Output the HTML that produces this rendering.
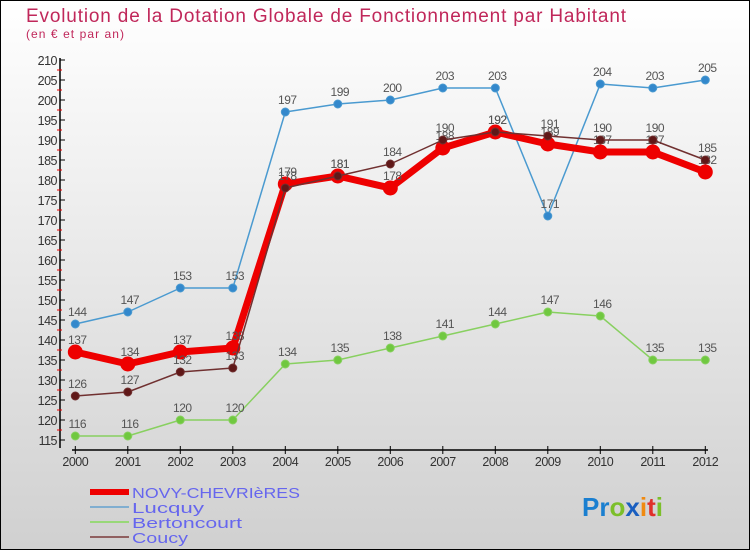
<!DOCTYPE html>
<html><head><meta charset="utf-8"><style>
html,body{margin:0;padding:0;}
body{width:750px;height:550px;overflow:hidden;font-family:"Liberation Sans",sans-serif;}
</style></head><body>
<svg id="chart" width="750" height="550" xmlns="http://www.w3.org/2000/svg">
<defs><linearGradient id="bg" x1="0" y1="0" x2="0" y2="1"><stop offset="0" stop-color="#ffffff"/><stop offset="1" stop-color="#d0d0d0"/></linearGradient></defs>
<rect x="0.5" y="0.5" width="749" height="549" fill="url(#bg)" stroke="#000"/>
<text x="26" y="22" font-size="19" fill="#c0275a" textLength="600" lengthAdjust="spacing">Evolution de la Dotation Globale de Fonctionnement par Habitant</text>
<text x="26" y="38" font-size="12" fill="#c0275a" textLength="98" lengthAdjust="spacing">(en € et par an)</text>
<g id="axes"></g><g id="series"></g><g id="legend"></g>
<text x="582" y="516" font-size="26" font-weight="bold" fill="#1a7fd0">Pr<tspan fill="#7cbf2a">o</tspan><tspan fill="#1a5fc0">x</tspan><tspan fill="#f08a10">i</tspan><tspan fill="#e0302a">t</tspan><tspan fill="#7cbf2a">i</tspan></text>
</svg>
<script>
const years=["2000","2001","2002","2003","2004","2005","2006","2007","2008","2009","2010","2011","2012"];
const yTicks=[115,120,125,130,135,140,145,150,155,160,165,170,175,180,185,190,195,200,205,210];
const novy=[137,134,137,138,179,181,178,188,192,189,187,187,182];
const lucquy=[144,147,153,153,197,199,200,203,203,171,204,203,205];
const bertoncourt=[116,116,120,120,134,135,138,141,144,147,146,135,135];
const coucy=[126,127,132,133,178,181,184,190,192,191,190,190,185];
const NS="http://www.w3.org/2000/svg";
const xs=i=>75.3+i*52.5;
const ys=v=>60+(210-v)*4;
function mk(tag,attrs,parent,txt){const e=document.createElementNS(NS,tag);for(const k in attrs)e.setAttribute(k,attrs[k]);if(txt!==undefined)e.textContent=txt;parent.appendChild(e);return e;}
const ax=document.getElementById('axes');
let e=mk('line',{x1:60,y1:58,x2:60,y2:448,stroke:'#000','stroke-width':1.5},ax);


e=mk('line',{x1:72,y1:450,x2:708,y2:450,stroke:'#000','stroke-width':1.5},ax);


yTicks.forEach((t,i)=>{
  mk('line',{x1:60,y1:ys(t),x2:65,y2:ys(t),stroke:'#000'},ax);
  if(i<yTicks.length-1) mk('line',{x1:57,y1:ys(t+2.5),x2:62,y2:ys(t+2.5),stroke:'#e00'},ax);
  const l=mk('text',{x:57,y:ys(t)+5,'font-size':12.5,'text-anchor':'end',fill:'#333','letter-spacing':'-0.5'},ax,String(t));
  
  
});
years.forEach((y,i)=>{
  mk('line',{x1:xs(i),y1:446,x2:xs(i),y2:454,stroke:'#000'},ax);
  const l=mk('text',{x:xs(i),y:466,'font-size':12.5,'text-anchor':'middle',fill:'#333','letter-spacing':'-0.5'},ax,y);
  
  
});
const sg=document.getElementById('series');
function series(name,data,color,w,r,dot){
  const g=mk('g',{},sg);
  
  
  const p=mk('polyline',{points:data.map((v,i)=>xs(i)+','+ys(v)).join(' '),fill:'none',stroke:color,'stroke-width':w,'stroke-linejoin':'round'},g);
  
  
  data.forEach((v,i)=>{
    const c=mk('circle',{cx:xs(i),cy:ys(v),r:r,fill:dot,stroke:color,'stroke-width':1},g);
    
    
    const t=mk('text',{x:xs(i)+2,y:ys(v)-8,'font-size':12,'text-anchor':'middle',fill:'#555','letter-spacing':'-0.5'},g,String(v));
    
    
  });
}
series('bertoncourt',bertoncourt,'#88d060',1.5,4,'#70c840');
series('lucquy',lucquy,'#4a9ad0',1.5,4,'#3388cc');
series('novy-chevrieres',novy,'#ee0000',7,7,'#ee0000');
series('coucy',coucy,'#703030',1.5,4,'#601818');
const lg=document.getElementById('legend');
const leg=[["NOVY-CHEVRIèRES","#ee0000",6,168],["Lucquy","#80aed0",2,72],["Bertoncourt","#98d878",2,110],["Coucy","#906060",2,56]];
leg.forEach((L,i)=>{
  const y=492+i*15;
  const g=mk('g',{},lg);
  
  
  mk('line',{x1:90,y1:y,x2:129,y2:y,stroke:L[1],'stroke-width':L[2]},g);
  mk('text',{x:132,y:y+6,'font-size':15,fill:'#6666ee',textLength:L[3],lengthAdjust:'spacingAndGlyphs'},g,L[0]);
});
</script>
</body></html>
